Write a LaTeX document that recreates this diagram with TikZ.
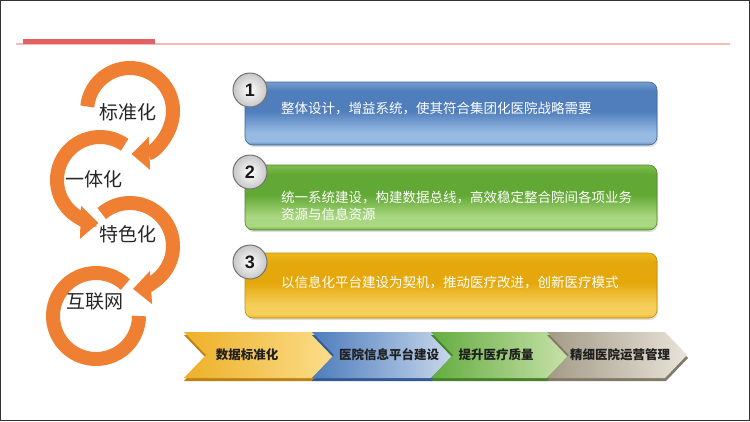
\documentclass[tikz,border=0pt]{standalone}
\usepackage{fontspec}
\setmainfont{Liberation Sans}
\newfontfamily\cjk{Noto Sans CJK SC}
\usetikzlibrary{arrows.meta,shadows}
\definecolor{orng}{HTML}{EE7F33}
\definecolor{redbar}{HTML}{E36060}
\definecolor{pinkline}{HTML}{F7B8B8}
% box 1 (blue)
\definecolor{bT}{RGB}{118,158,208}
\definecolor{bM}{RGB}{80,126,188}
\definecolor{bH}{RGB}{150,186,226}
\definecolor{bE}{RGB}{96,138,194}
% box 2 (green)
\definecolor{gT}{RGB}{128,190,80}
\definecolor{gM}{RGB}{98,168,52}
\definecolor{gH}{RGB}{170,215,130}
\definecolor{gE}{RGB}{112,178,66}
% box 3 (yellow)
\definecolor{yT}{RGB}{238,182,30}
\definecolor{yM}{RGB}{228,168,12}
\definecolor{yH}{RGB}{246,206,90}
\definecolor{yE}{RGB}{232,176,32}
% chevrons
\definecolor{c1L}{RGB}{238,176,40}
\definecolor{c1R}{RGB}{251,222,140}
\definecolor{c1D}{RGB}{190,130,20}
\definecolor{c2L}{RGB}{78,124,188}
\definecolor{c2R}{RGB}{200,216,236}
\definecolor{c2D}{RGB}{50,90,150}
\definecolor{c3L}{RGB}{100,172,64}
\definecolor{c3R}{RGB}{200,226,170}
\definecolor{c3D}{RGB}{70,130,40}
\definecolor{c4L}{RGB}{164,154,134}
\definecolor{c4R}{RGB}{232,228,218}
\definecolor{c4D}{RGB}{130,122,105}
\pgfdeclareverticalshading{glossblue}{100bp}{color(0bp)=(bE); color(25bp)=(bE); color(28bp)=(bH); color(35bp)=(bH); color(52bp)=(bM); color(68bp)=(bM); color(75bp)=(bT); color(100bp)=(bT)}
\pgfdeclareverticalshading{glossgreen}{100bp}{color(0bp)=(gE); color(25bp)=(gE); color(28bp)=(gH); color(35bp)=(gH); color(52bp)=(gM); color(68bp)=(gM); color(75bp)=(gT); color(100bp)=(gT)}
\pgfdeclareverticalshading{glossyellow}{100bp}{color(0bp)=(yE); color(25bp)=(yE); color(28bp)=(yH); color(35bp)=(yH); color(52bp)=(yM); color(68bp)=(yM); color(75bp)=(yT); color(100bp)=(yT)}
\tikzset{
  ring/.style={draw=orng, line width=14pt},
  ringarrow/.style={ring, -{Triangle[length=18pt,width=32pt]}},
  ringtext/.style={font=\cjk\fontsize{19}{19}\selectfont, text=black!85, inner sep=0pt},
  infobox/.style={rounded corners=8pt, draw=#1, line width=0.6pt,
    drop shadow={opacity=0.25, shadow xshift=1pt, shadow yshift=-2pt}},
  numcirc/.style={circle, minimum size=34pt, inner sep=0pt, draw=black!55, line width=1pt,
    inner color=white, outer color=black!22, font=\bfseries\fontsize{18}{18}\selectfont, text=black!90},
  boxtext/.style={font=\cjk\fontsize{13.5}{17}\selectfont, text=white, anchor=west, align=left, inner sep=0pt},
  chevtext/.style={font=\cjk\bfseries\fontsize{12.5}{12.5}\selectfont, text=black!88, inner sep=0pt}
}
\begin{document}
\begin{tikzpicture}[x=1pt,y=-1pt]
\useasboundingbox (0,0) rectangle (750,421);
\fill[white] (0,0) rectangle (750,421);
\draw[black!80, line width=1pt] (0.5,0.5) rectangle (749.5,420.5);
% header
\fill[pinkline] (16,42.6) rectangle (730,44.6);
\fill[redbar] (23,39) rectangle (155,44);
% rings
\coordinate (c1) at (130,111);
\coordinate (c2) at (100,180);
\coordinate (c3) at (130,246);
\coordinate (c4) at (96,316);
\draw[ring] ([shift={(313:43)}]c4) arc[start angle=313, end angle=0, radius=43];
\draw[ringarrow] ([shift={(229:43)}]c3) arc[start angle=229, end angle=446, radius=43];
\draw[ringarrow] ([shift={(305:43)}]c2) arc[start angle=305, end angle=92, radius=43];
\draw[ringarrow] ([shift={(186:43)}]c1) arc[start angle=186, end angle=448, radius=43];
\node[ringtext] (t1) at (128,112) {标准化};
\node[ringtext] (t2) at (94,179) {一体化};
\node[ringtext] (t3) at (128,234) {特色化};
\node[ringtext] (t4) at (95,302) {互联网};
% boxes
\path[infobox=bM!80!black, shading=glossblue] (245,82) rectangle (657,145);
\path[infobox=gM!80!black, shading=glossgreen] (245,165) rectangle (657,230);
\path[infobox=yM!85!black, shading=glossyellow] (245,253) rectangle (657,318);
\node[numcirc] (n1) at (250,90) {1};
\node[numcirc] (n2) at (250,172) {2};
\node[numcirc] (n3) at (250,262) {3};
\node[boxtext] (b1) at (281,108) {整体设计，增益系统，使其符合集团化医院战略需要};
\node[boxtext] (b2) at (281,205.5) {统一系统建设，构建数据总线，高效稳定整合院间各项业务\\资源与信息资源};
\node[boxtext] (b3) at (281,282) {以信息化平台建设为契机，推动医疗改进，创新医疗模式};
% chevrons
\foreach \L/\R/\cl/\cr/\cd in {184/312/c1L/c1R/c1D, 312/431/c2L/c2R/c2D, 431/547/c3L/c3R/c3D, 547/665/c4L/c4R/c4D}{
  \fill[\cd] (\L,335) -- (\R+1,335) -- (\R+23,358) -- (\R+1,381) -- (\L,381) -- (\L+22,358) -- cycle;
  \shade[left color=\cl, right color=\cr] (\L,332) -- (\R,332) -- (\R+22,355) -- (\R,378) -- (\L,378) -- (\L+22,355) -- cycle;
}
\node[chevtext] (h1) at (247,355) {数据标准化};
\node[chevtext] (h2) at (389,355) {医院信息平台建设};
\node[chevtext] (h3) at (496,355) {提升医疗质量};
\node[chevtext] (h4) at (620,355) {精细医院运营管理};
\end{tikzpicture}
\end{document}
